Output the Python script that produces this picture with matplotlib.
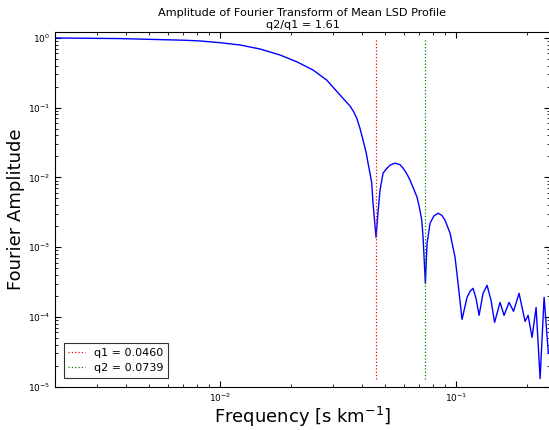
import numpy as np
import matplotlib
matplotlib.use('Agg')
import matplotlib.pyplot as plt

# values
freq = [0.00200, 0.00377, 0.00711, 0.00823, 0.0100, 0.01215, 0.01477, 0.01795,
        0.02113, 0.02478, 0.02832, 0.03224, 0.03555, 0.0367, 0.03795, 0.03918,
        0.04036, 0.04155, 0.04238, 0.04321, 0.04393, 0.04449, 0.04581, 0.04672,
        0.04764, 0.04906, 0.05086, 0.05253, 0.05513, 0.0579, 0.05963, 0.06182,
        0.06383, 0.06594, 0.06834, 0.06991, 0.07156, 0.07248, 0.07413, 0.07535,
        0.0776, 0.08060, 0.08389, 0.08700, 0.08982, 0.09432, 0.09903, 0.10197,
        0.1060, 0.11132, 0.11463, 0.1180, 0.1215, 0.12518, 0.13014, 0.1353,
        0.1407, 0.1456, 0.1536, 0.1597, 0.1677, 0.1752, 0.1849, 0.1960,
        0.2019, 0.2099, 0.2183, 0.2270, 0.2360, 0.2461]
amp = [1.0, 0.98, 0.927, 0.906, 0.856, 0.793, 0.695, 0.570,
       0.456, 0.347, 0.249, 0.152, 0.1054, 0.0893, 0.0709, 0.0504,
       0.0342, 0.0232, 0.0160, 0.01138, 0.00826, 0.00426, 0.00138, 0.00319,
       0.00655, 0.0115, 0.01343, 0.01497, 0.0160, 0.01522, 0.01356, 0.01130,
       0.00911, 0.00700, 0.00520, 0.00373, 0.00243, 0.00138, 0.000302, 0.00113,
       0.00220, 0.00280, 0.00306, 0.00286, 0.00243, 0.00158, 0.000713, 0.000302,
       9.18e-5, 1.90e-4, 2.32e-4, 2.56e-4, 1.84e-4, 1.05e-4, 2.17e-4, 2.83e-4,
       1.72e-4, 8.31e-5, 1.61e-4, 1.05e-4, 1.61e-4, 1.20e-4, 2.17e-4, 8.59e-5,
       1.05e-4, 5.06e-5, 1.36e-4, 1.30e-5, 1.90e-4, 2.98e-5]
q1 = 0.0460
q2 = 0.0739

plt.rcParams['xtick.direction'] = 'in'
plt.rcParams['ytick.direction'] = 'in'
plt.rcParams['xtick.top'] = True
plt.rcParams['ytick.right'] = True
plt.rcParams['xtick.major.size'] = 4
plt.rcParams['ytick.major.size'] = 4
plt.rcParams['xtick.minor.size'] = 2
plt.rcParams['ytick.minor.size'] = 2
plt.rcParams['xtick.labelsize'] = 6.5
plt.rcParams['ytick.labelsize'] = 6.5

fig = plt.figure(figsize=(5.49, 4.30), dpi=100)
ax = fig.add_axes([55/549, 1 - 386.5/430, 495/549, 354.8/430])

ax.plot(freq, amp, color='b', linewidth=1)
ax.vlines(q1, min(amp), max(amp), color='r', linestyle=':', linewidth=0.9,
          label='q1 = %.4f' % q1)
ax.vlines(q2, min(amp), max(amp), color='g', linestyle=':', linewidth=0.9,
          label='q2 = %.4f' % q2)
ax.set_xscale('log')
ax.set_yscale('log')
ax.set_xlim(0.002, 0.25)
ax.set_ylim(1e-5, 1.23)

ax.set_xlabel(r'Frequency [s km$^{-1}$]', fontsize=13, labelpad=1)
ax.set_ylabel('Fourier Amplitude', fontsize=13, labelpad=2)
ax.set_title('Amplitude of Fourier Transform of Mean LSD Profile\nq2/q1 = %.2f' % (q2 / q1),
             fontsize=8.1, pad=3)

leg = ax.legend(loc='lower left', fontsize=8, handlelength=1.5, fancybox=False,
                framealpha=1, edgecolor='0.2', borderaxespad=0.8)
leg.get_frame().set_linewidth(0.8)

fig.savefig('out.png', dpi=100, facecolor='white')
